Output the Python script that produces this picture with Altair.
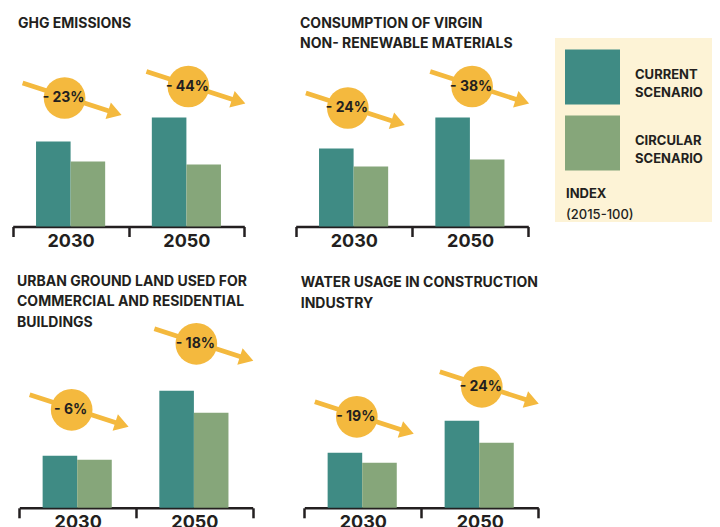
import altair as alt
import pandas as pd

# ---------------- data ----------------
YEARS = ["2030", "2050"]
SCENARIOS = ["CURRENT SCENARIO", "CIRCULAR SCENARIO"]
PANELS = ["ghg", "materials", "land", "water"]
TITLES = {
    "ghg": "GHG EMISSIONS",
    "materials": "CONSUMPTION OF VIRGIN\nNON- RENEWABLE MATERIALS",
    "land": "URBAN GROUND LAND USED FOR\nCOMMERCIAL AND RESIDENTIAL\nBUILDINGS",
    "water": "WATER USAGE IN CONSTRUCTION\nINDUSTRY",
}
# index values (same unit in every panel), per year [2030, 2050]
CURRENT = {"ghg": [85, 109], "materials": [78, 109], "land": [52, 117], "water": [55, 87]}
CIRCULAR = {"ghg": [65, 62], "materials": [60, 67], "land": [48, 95], "water": [45, 65]}
CHANGE = {"ghg": ["- 23%", "- 44%"], "materials": ["- 24%", "- 38%"],
          "land": ["- 6%", "- 18%"], "water": ["- 19%", "- 24%"]}
BADGE_LEVEL = {"ghg": [128.5, 140], "materials": [118.5, 140], "land": [98, 164], "water": [91, 121]}
LEGEND_TITLE = ["INDEX", "(2015-100)"]

# ---------------- style ----------------
FONT = "Inter"
DARK = "#231f20"
TEAL = "#3f8b84"
SAGE = "#86a67a"
GOLD = "#f4b93e"
CREAM = "#fdf3d6"
ARROW = "M -1 -0.045 L 0.73 -0.045 L 0.73 -0.165 L 1 0 L 0.73 0.165 L 0.73 0.045 L -1 0.045 Z"
BADGE_DX = [-6, 2]

H1 = 218.5
H2 = 240.8
LEG_W = 157
LAYOUT = {
    # width, x-range, height, title x, title y, line height
    "ghg": (285, [4.7, 236.3], H1, 10, 19.5, 20),
    "materials": (262, [2.7, 235.3], H1, 7, 19.5, 20),
    "land": (285, [11.3, 244.7], H2, 9, 18.5, 20.5),
    "water": (262, [11.3, 245.3], H2, 7.7, 20, 21),
}

color_scale = alt.Scale(domain=SCENARIOS, range=[TEAL, SAGE])


def panel(key):
    width, rng, height, tx, ty, lh = LAYOUT[key]
    rows = []
    for i, yr in enumerate(YEARS):
        rows.append({"year": yr, "scenario": SCENARIOS[0], "value": CURRENT[key][i]})
        rows.append({"year": yr, "scenario": SCENARIOS[1], "value": CIRCULAR[key][i]})
    bars_df = pd.DataFrame(rows)
    ann_df = pd.DataFrame({"year": YEARS, "badge": BADGE_LEVEL[key], "label": CHANGE[key]})

    x = alt.X(
        "year:N", sort=YEARS,
        scale=alt.Scale(domain=YEARS, range=rng, paddingInner=0, paddingOuter=0),
        axis=alt.Axis(title=None, domainColor=DARK, domainWidth=2.5, tickColor=DARK,
                      tickWidth=2.5, tickSize=10, tickBand="extent", labelFont=FONT,
                      labelFontSize=18, labelFontWeight="bold", labelColor=DARK,
                      labelPadding=-4, labelAngle=0, grid=False),
    )
    yscale = alt.Scale(domain=[0, height], nice=False)

    bars = alt.Chart(bars_df).mark_bar().encode(
        x=x,
        y=alt.Y("value:Q", scale=yscale, axis=None),
        xOffset=alt.XOffset("scenario:N", sort=SCENARIOS,
                            scale=alt.Scale(domain=SCENARIOS, paddingOuter=0.675, paddingInner=0)),
        color=alt.Color("scenario:N", scale=color_scale, legend=None),
    )
    layers = [bars]
    for i, yr in enumerate(YEARS):
        dx = BADGE_DX[i]
        base = alt.Chart(ann_df).transform_filter(alt.datum.year == yr)
        enc = dict(x=alt.X("year:N", sort=YEARS), y=alt.Y("badge:Q", axis=None))
        layers.append(base.mark_point(shape=ARROW, filled=True, size=10816, angle=18,
                                      color=GOLD, opacity=1, strokeWidth=0,
                                      xOffset=dx + 7.5, yOffset=1).encode(**enc))
        layers.append(base.mark_circle(size=1735, color=GOLD, opacity=1,
                                       xOffset=dx).encode(**enc))
        layers.append(base.mark_text(font=FONT, fontSize=14, fontWeight="bold", color=DARK,
                                     align="center", baseline="middle",
                                     xOffset=dx - 1).encode(text="label:N", **enc))
    title = alt.Chart(pd.DataFrame({"t": [TITLES[key]]})).mark_text(
        align="left", baseline="alphabetic", lineBreak="\n", lineHeight=lh,
        font=FONT, fontSize=14, fontWeight="bold", color=DARK,
    ).encode(x=alt.value(tx), y=alt.value(ty), text="t:N")
    layers.append(title)
    return alt.layer(*layers).properties(width=width, height=height)


def legend_panel():
    leg_df = pd.DataFrame({"scenario": SCENARIOS})
    ly = alt.Y("scenario:N", sort=SCENARIOS,
               scale=alt.Scale(domain=SCENARIOS, range=[36, 168], paddingInner=0, paddingOuter=0),
               axis=None)
    box = alt.Chart(pd.DataFrame({"a": [0]})).mark_rect(color=CREAM).encode(
        x=alt.value(0), x2=alt.value(LEG_W), y=alt.value(30), y2=alt.value(214))
    sw = alt.Chart(leg_df).mark_square(size=3025, opacity=1).encode(
        x=alt.value(37.5), y=ly,
        color=alt.Color("scenario:N", scale=color_scale, legend=None))
    lab = alt.Chart(leg_df).mark_text(
        align="left", baseline="middle", lineBreak=" ", lineHeight=18, dy=-2,
        font=FONT, fontSize=13, fontWeight="bold", color=DARK,
    ).encode(x=alt.value(80), y=ly, text="scenario:N")
    t1 = alt.Chart(pd.DataFrame({"t": [LEGEND_TITLE[0]]})).mark_text(
        align="left", baseline="alphabetic", font=FONT, fontSize=13, fontWeight="bold", color=DARK,
    ).encode(x=alt.value(11), y=alt.value(189.7), text="t:N")
    t2 = alt.Chart(pd.DataFrame({"t": [LEGEND_TITLE[1]]})).mark_text(
        align="left", baseline="alphabetic", font=FONT, fontSize=13, fontWeight=500, color=DARK,
    ).encode(x=alt.value(11), y=alt.value(210.7), text="t:N")
    return alt.layer(box, sw, lab, t1, t2).properties(width=LEG_W, height=H1)


chart = alt.concat(
    panel("ghg"), panel("materials"), legend_panel(),
    panel("land"), panel("water"),
    columns=3, spacing={"row": 40, "column": 0}, bounds="flush", align="each",
).properties(
    padding=0, background="white"
).configure_view(stroke=None)

chart.save("out.html", embed_options={"renderer": "svg", "actions": False})
